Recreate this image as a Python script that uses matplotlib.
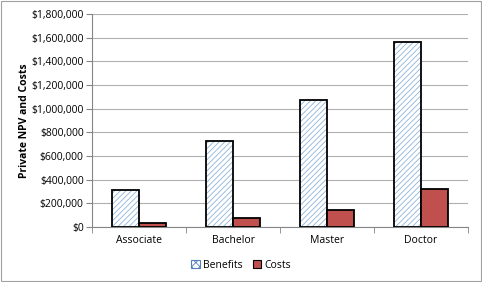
import matplotlib.pyplot as plt
import numpy as np
from matplotlib.patches import Patch

categories = ['Associate', 'Bachelor', 'Master', 'Doctor']
benefits = [315000, 725000, 1070000, 1565000]
costs = [35000, 72000, 145000, 318000]
yticks = np.arange(0, 1800001, 200000)

plt.rcParams['font.family'] = ['Open Sans', 'DejaVu Sans']
plt.rcParams['hatch.linewidth'] = 0.6

fig = plt.figure(figsize=(4.82, 2.82), dpi=100)
ax = fig.add_axes([0.191, 0.195, 0.78, 0.755])

x = np.arange(len(categories))
w = 0.29
# hatched fill, then black outline on top
ax.bar(x - w / 2, benefits, w, color='white', edgecolor='#8fb3d9', hatch='//////', linewidth=0, zorder=2)
ax.bar(x - w / 2, benefits, w, color='none', edgecolor='black', linewidth=1.3, zorder=3)
ax.bar(x + w / 2, costs, w, color='#c0504d', edgecolor='black', linewidth=1.3, zorder=3)

ax.set_xlim(-0.5, len(categories) - 0.5)
ax.set_ylim(0, 1800000)
ax.set_yticks(yticks)
ax.set_yticklabels(['${:,.0f}'.format(v) for v in yticks], fontsize=7.5)
ax.set_xticks(x)
ax.set_xticklabels(categories, fontsize=7.5)
ax.set_xticks(np.arange(-0.5, len(categories)), minor=True)
ax.tick_params(axis='x', which='major', length=0, pad=6)
ax.tick_params(axis='x', which='minor', length=4, color='#868686')
ax.tick_params(axis='y', length=4, color='#868686', pad=2)
ax.yaxis.grid(True, color='#b0b0b0', linewidth=0.8, zorder=0)
ax.set_axisbelow(True)
for s in ['top', 'right']:
    ax.spines[s].set_visible(False)
for s in ['left', 'bottom']:
    ax.spines[s].set_color('#868686')
ax.set_ylabel('Private NPV and Costs', fontsize=7.5, fontweight='bold', labelpad=1)

handles = [Patch(facecolor='white', edgecolor='#4f81bd', hatch='xxxx', linewidth=0.8),
           Patch(facecolor='#c0504d', edgecolor='black', linewidth=0.8)]
leg = fig.legend(handles, ['Benefits', 'Costs'], loc='center', bbox_to_anchor=(0.5, 0.06),
                 ncol=2, frameon=False, fontsize=7.5, handlelength=0.8, handleheight=0.8,
                 handletextpad=0.3, columnspacing=1.0)

fig.patches.append(plt.Rectangle((0.002, 0.004), 0.995, 0.992, transform=fig.transFigure,
                                 fill=False, edgecolor='#a0a0a0', linewidth=0.8))

fig.savefig('out.png', dpi=100)
